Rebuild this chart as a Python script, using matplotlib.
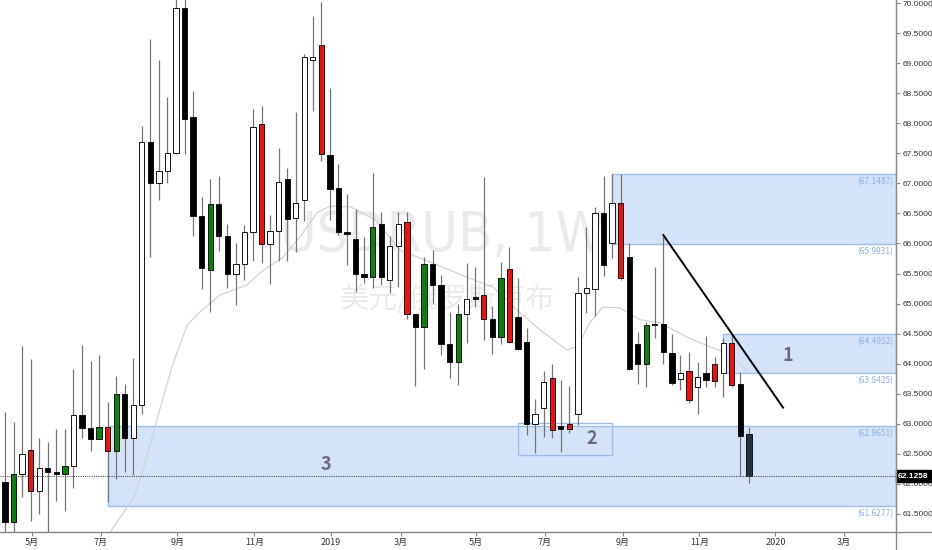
import numpy as np
import matplotlib.pyplot as plt
from matplotlib.patches import Rectangle
from matplotlib.lines import Line2D
from matplotlib import font_manager

plt.rcParams['font.family'] = ['Noto Sans CJK SC', 'DejaVu Sans']

# weekly USD/RUB candles
opens = [62.03, 61.36, 62.16, 62.56, 61.88, 62.27, 62.20, 62.16, 62.30, 63.14,
         62.93, 62.75, 62.95, 62.55, 63.49, 62.76, 63.31, 67.69, 67.01, 67.21,
         67.51, 69.91, 68.11, 66.46, 65.56, 66.66, 66.13, 65.49, 65.66, 66.19,
         67.98, 65.99, 66.21, 67.07, 66.42, 66.72, 69.06, 69.30, 67.47, 66.92,
         66.19, 66.07, 65.49, 65.45, 66.33, 65.39, 65.95, 66.36, 64.82, 64.61,
         65.65, 65.31, 64.33, 64.03, 64.82, 65.11, 65.15, 64.75, 64.44, 65.57,
         64.78, 64.36, 62.99, 63.26, 63.77, 62.97, 62.99, 63.16, 65.17, 65.25,
         66.50, 66.00, 66.68, 65.78, 64.33, 63.99, 64.66, 64.66, 64.17, 63.74,
         63.88, 63.62, 63.84, 64.00, 63.84, 64.35, 63.67, 62.83]
highs = [63.20, 63.03, 64.29, 64.08, 62.76, 62.70, 62.92, 62.92, 63.91, 64.31,
         64.04, 64.15, 63.37, 63.80, 63.66, 64.09, 67.95, 69.40, 69.05, 68.43,
         70.10, 70.10, 68.54, 66.77, 67.07, 67.12, 66.33, 66.00, 66.31, 68.23,
         68.29, 66.47, 67.58, 67.25, 68.18, 69.16, 69.79, 70.01, 68.58, 67.32,
         66.83, 66.58, 66.10, 67.18, 66.53, 66.12, 66.53, 66.53, 64.83, 65.77,
         65.89, 65.47, 64.86, 65.00, 65.68, 65.61, 67.11, 64.96, 65.69, 65.94,
         65.43, 64.59, 63.42, 63.87, 63.99, 63.73, 63.63, 65.45, 66.28, 66.61,
         67.12, 67.15, 67.15, 66.00, 64.53, 64.70, 65.61, 66.14, 64.50, 64.14,
         64.19, 64.03, 64.46, 64.11, 64.43, 64.50, 63.86, 62.95]
lows = [61.10, 61.10, 61.78, 61.39, 61.50, 61.10, 61.72, 61.55, 61.94, 62.77,
        62.55, 62.74, 61.70, 62.08, 62.20, 62.15, 63.17, 65.78, 66.73, 67.01,
        67.48, 67.49, 66.13, 65.24, 64.86, 65.88, 65.26, 64.98, 65.39, 65.71,
        65.67, 65.32, 65.70, 65.70, 65.86, 66.37, 68.20, 67.38, 66.39, 66.14,
        65.64, 65.19, 65.35, 65.26, 65.31, 65.18, 65.27, 64.75, 63.63, 63.91,
        65.00, 64.14, 63.76, 63.64, 64.34, 64.95, 64.40, 64.16, 64.32, 64.34,
        64.23, 62.81, 62.51, 62.78, 62.76, 62.53, 62.84, 62.98, 64.85, 64.80,
        65.46, 65.76, 65.39, 63.89, 63.67, 63.62, 64.42, 64.00, 63.64, 63.56,
        63.34, 63.16, 63.62, 63.62, 63.45, 63.62, 62.13, 62.01]
closes = [61.36, 62.16, 62.50, 61.88, 62.27, 62.19, 62.17, 62.30, 63.14, 62.93,
          62.75, 62.95, 62.55, 63.49, 62.76, 63.31, 67.69, 67.01, 67.21, 67.51,
          69.91, 68.07, 66.46, 65.60, 66.66, 66.13, 65.49, 65.66, 66.19, 67.94,
          65.99, 66.21, 67.03, 66.41, 66.67, 69.10, 69.11, 67.49, 66.90, 66.19,
          66.15, 65.49, 65.45, 66.28, 65.45, 65.95, 66.33, 64.82, 64.61, 65.65,
          65.31, 64.33, 64.03, 64.82, 65.08, 65.08, 64.75, 64.44, 65.42, 64.36,
          64.24, 62.99, 63.16, 63.69, 62.90, 62.92, 62.92, 65.17, 65.26, 66.50,
          65.64, 66.68, 65.43, 63.91, 63.99, 64.64, 64.64, 64.20, 63.68, 63.84,
          63.39, 63.78, 63.73, 63.71, 64.35, 63.64, 62.80, 62.13]
# body colour code per bar: w white, k black, g green, r red, d last bar
bar_kind = list("kgwrwkkgwk" "kgrgkwwkww" "wkkkgkkwww" "rwwkwwwrkk" "kkkgkwwrkg"
                "kkkgwkrkgr" "kkwwrkrwww" "kwrkkgkkkw" "rwkrwrkd")

# light grey moving average
ma_x = [12.3, 15.0, 16.1, 17.8, 19.6, 21.3, 22.8, 25.1, 28.3, 29.8, 32.5, 34.5,
        36.5, 38.0, 40.4, 43.3, 46.2, 50.1, 54.0, 57.1, 59.9, 62.6, 65.7, 66.9,
        68.4, 69.9, 71.9, 74.3, 76.6, 79.8, 82.8, 84.4, 86.8]
ma_y = [61.20, 61.76, 62.20, 63.09, 63.98, 64.64, 64.86, 65.14, 65.31, 65.51,
        65.77, 66.11, 66.51, 66.62, 66.61, 66.39, 65.89, 65.67, 65.44, 65.27,
        64.89, 64.56, 64.23, 64.28, 64.68, 64.94, 64.93, 64.73, 64.68, 64.44,
        64.26, 64.18, 63.89]

month_pos = [3.12, 11.23, 20.15, 29.16, 38.13, 46.3, 55.09, 63.16, 72.25, 81.2, 90.1, 98.1]
month_labels = ['5月', '7月', '9月', '11月', '2019', '3月', '5月', '7月', '9月', '11月', '2020', '3月']

zone_start = [71.0, 84.0, 12.05]
zone_lo = [65.9931, 63.8425, 61.6277]
zone_hi = [67.1487, 64.4952, 62.9651]
box2 = [60.0, 71.0, 62.48, 63.02]
trend_x = [77.0, 91.0]
trend_y = [66.14, 63.27]
last_price = 62.1258

body_colors = {'w': '#ffffff', 'k': '#000000', 'g': '#0a800a', 'r': '#f01010', 'd': '#263238'}

fig = plt.figure(figsize=(9.32, 5.5), dpi=100)
ax = fig.add_axes([0, 18 / 550, 896 / 932, 532 / 550])
x0, x1 = -0.585, 104.21
ax.set_xlim(x0, x1)
ax.set_ylim(61.20, 70.05)

# watermark, a condensed face if there is one
wm_size = 36
wm_stretch = 'normal'
try:
    path = font_manager.findfont(font_manager.FontProperties(family='DejaVu Sans', stretch='condensed'))
    if 'Condensed' in path:
        wm_stretch = 'condensed'
        wm_size = 40
except ValueError:
    pass
ax.text(51.2, 66.13, 'USDRUB, 1W', fontsize=wm_size, family='DejaVu Sans', stretch=wm_stretch,
        weight='light', color='#ebebeb', ha='center', va='center', zorder=0)
ax.text(51.7, 65.06, '美元/俄罗斯卢布', fontsize=21, weight='light', color='#ebebeb',
        ha='center', va='center', zorder=0)

# zones
for s, lo, hi in zip(zone_start, zone_lo, zone_hi):
    ax.add_patch(Rectangle((s, lo), x1 + 1 - s, hi - lo, facecolor='#d5e3f8',
                           edgecolor='#9dbdf0', lw=1, zorder=1))
ax.add_patch(Rectangle((box2[0], box2[2]), box2[1] - box2[0], box2[3] - box2[2],
                       facecolor='none', edgecolor='#9dbdf0', lw=1, zorder=1))
for v in zone_lo + zone_hi:
    ax.annotate('(%.4f)' % v, xy=(1, v), xycoords=('axes fraction', 'data'),
                xytext=(-2, -2), textcoords='offset points', ha='right', va='top',
                fontsize=6, color='#8fb2ee', zorder=2)

zone_tag = '#6e6a86'
ax.text(91.6, 64.13, '1', fontsize=13, weight='bold', color=zone_tag, ha='center', va='center', zorder=5)
ax.text(68.65, 62.76, '2', fontsize=13, weight='bold', color=zone_tag, ha='center', va='center', zorder=5)
ax.text(37.5, 62.33, '3', fontsize=13, weight='bold', color=zone_tag, ha='center', va='center', zorder=5)

ax.plot(ma_x, ma_y, color='#d3d3d3', lw=0.9, zorder=1.5)

# candles
idx = np.arange(len(opens))
o = np.array(opens)
c = np.array(closes)
ax.vlines(idx, lows, highs, color='#767676', lw=0.9, zorder=2)
bottoms = np.minimum(o, c)
heights = np.maximum(np.abs(c - o), 0.025)
ax.bar(idx, heights, bottom=bottoms, width=0.62,
       color=[body_colors[k] for k in bar_kind], edgecolor='#111111', lw=0.7, zorder=3)

ax.plot(trend_x, trend_y, color='black', lw=1.4, zorder=4)
ax.axhline(last_price, color='#555555', lw=0.8, ls=(0, (1, 1)), zorder=4)

# axes styling
for side in ['top', 'left']:
    ax.spines[side].set_visible(False)
ax.spines['right'].set_color('#8a8a8a')
ax.spines['bottom'].set_color('#8a8a8a')
ax.yaxis.tick_right()
yt = np.arange(61.5, 70.01, 0.5)
ax.set_yticks(yt)
ax.set_yticklabels(['%.4f' % v for v in yt], family='Liberation Sans', fontsize=6)
ax.set_xticks(month_pos)
ax.set_xticklabels(month_labels)
ax.tick_params(axis='y', colors='#8a8a8a', labelcolor='#333333', length=3, pad=1.5)
ax.tick_params(axis='x', labelsize=6.5, colors='#8a8a8a', labelcolor='#333333', length=3, pad=1.5)

ax.annotate('%.4f' % last_price, xy=(1, last_price), xycoords=('axes fraction', 'data'),
            xytext=(1.5, 0), textcoords='offset points', ha='left', va='center',
            fontsize=6, family='Liberation Sans', weight='bold', color='white', zorder=6,
            annotation_clip=False, bbox=dict(boxstyle='square,pad=0.3', fc='black', ec='black'))

fig.add_artist(Line2D([0, 1], [18 / 550, 18 / 550], transform=fig.transFigure, color='#8a8a8a', lw=1))
fig.add_artist(Line2D([896 / 932, 896 / 932], [0, 1], transform=fig.transFigure, color='#8a8a8a', lw=1))

fig.savefig('out.png', dpi=100)
